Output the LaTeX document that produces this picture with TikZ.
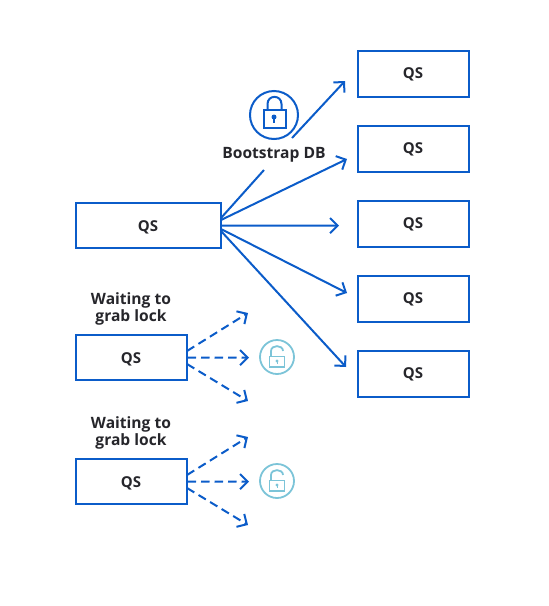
\documentclass[tikz,border=0pt]{standalone}
\usepackage{fontspec}
\setmainfont{Open Sans}
\usetikzlibrary{arrows.meta}
\definecolor{qsblue}{HTML}{0B5CC9}
\definecolor{locklight}{HTML}{7CC4D8}
\definecolor{inkdark}{HTML}{26262B}
\begin{document}
\begin{tikzpicture}[x=1pt,y=-1pt,
    qsbox/.style={draw=qsblue,line width=2pt,inner sep=0pt,font=\bfseries\fontsize{15}{15}\selectfont,text=inkdark},
    lowered/.style={text height=12.5pt,text depth=0pt},
    caption/.style={inner sep=0pt,align=center,font=\bfseries\fontsize{15.6}{17}\selectfont,text=inkdark},
    solidarrow/.style={draw=qsblue,line width=2pt,-{Straight Barb[length=7.5pt,width=15pt,line width=2pt]}},
    dasharrow/.style={solidarrow,dash pattern=on 8.5pt off 5pt},
    lockline/.style={draw=qsblue,line width=2pt},
    freeline/.style={draw=locklight,line width=1.8pt}]
      \useasboundingbox (0,0) rectangle (549,606);
      % left boxes
      \node[qsbox,lowered,minimum width=145pt,minimum height=44.5pt] (main) at (148,225.5) {QS};
      \node[qsbox,lowered,minimum width=111pt,minimum height=44.5pt] (waitA) at (131,357.5) {QS};
      \node[qsbox,lowered,minimum width=111pt,minimum height=44.5pt] (waitB) at (131,481.5) {QS};
      % right boxes
      \foreach \i/\y in {1/74,2/149,3/224,4/299,5/374}
        \node[qsbox,minimum width=111pt,minimum height=45.5pt] (qs\i) at (413,\y) {QS};
      % labels
      \node[caption] (dblabel) at (274,155) {Bootstrap DB};
      \node[caption] (waitlabelA) at (131,309) {Waiting to\\grab lock};
      \node[caption] (waitlabelB) at (131,433) {Waiting to\\grab lock};
      % arrow ends
      \coordinate (gapA) at (264,170);
      \coordinate (gapB) at (292,138);
      \coordinate (endA) at (345,81);
      \coordinate (endB) at (347,159);
      \coordinate (endC) at (339,225.6);
      \coordinate (endD) at (347,293);
      \coordinate (endE) at (346,367);
      \draw[lockline] (221,218) -- (gapA);
      \draw[solidarrow] (gapB) -- (endA);
      \draw[solidarrow] (221,220) -- (endB);
      \draw[solidarrow] (main.east) -- (endC);
      \draw[solidarrow] (221,229) -- (endD);
      \draw[solidarrow] (221,231) -- (endE);
      % dashed arrows
      \foreach \n/\dy in {waitA/0,waitB/124} {
        \coordinate (upper\n) at (248,313+\dy);
        \coordinate (middle\n) at (249,357.6+\dy);
        \coordinate (lower\n) at (248,401+\dy);
        \draw[dasharrow] (187,351+\dy) -- (upper\n);
        \draw[dasharrow] (\n.east) -- (middle\n);
        \draw[dasharrow] (187,364+\dy) -- (lower\n);
        % open lock
        \draw[freeline] (277,357+\dy) circle (17);
        \draw[freeline] (269.5,356.5+\dy) rectangle (284.5,367+\dy);
        \draw[freeline] (271,356.5+\dy) -- (271,351+\dy) .. controls (271,344.5+\dy) and (283,344.5+\dy) .. (283,351+\dy);
        \fill[locklight] (277,361+\dy) circle (1.6);
        \draw[locklight,line width=1pt] (277,361+\dy) -- (277,364+\dy);
      }
      % closed lock
      \draw[lockline] (274,115) circle (24);
      \draw[lockline] (263.5,110) rectangle (285.5,128);
      \draw[lockline] (267.5,110) -- (267.5,104) .. controls (267.5,94.5) and (281.5,94.5) .. (281.5,104) -- (281.5,110);
      \fill[qsblue] (274,117) circle (2.5);
      \draw[qsblue,line width=1.5pt] (274,117) -- (274,122.5);
    \end{tikzpicture}
\end{document}
